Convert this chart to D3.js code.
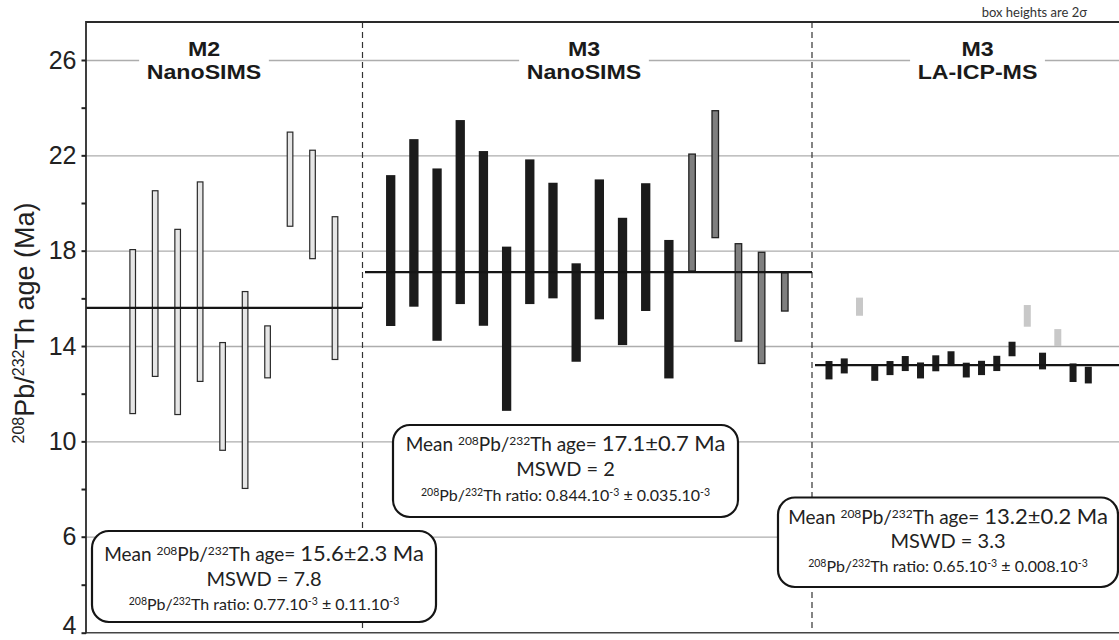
<!DOCTYPE html>
<html><head><meta charset="utf-8">
<script src="https://cdn.jsdelivr.net/npm/d3@7"></script>
<style>body{margin:0;background:#fff}svg{display:block}</style>
</head><body>
<svg id="c" width="1119" height="640"></svg>
<script>
// ---------------- DATA ----------------
const m2NanoHigh = [18.07, 20.54, 18.92, 20.91, 14.17, 16.31, 14.87, 23.00, 22.24, 19.45];
const m2NanoLow  = [11.14, 12.70, 11.10, 12.49,  9.60,  8.00, 12.64, 19.00, 17.64, 13.41];

const m3NanoHigh = [21.17, 22.68, 21.45, 23.48, 22.18, 18.17, 21.83, 20.85, 17.47, 20.99, 19.38, 20.83, 18.45, 22.08, 23.90, 18.32, 17.96, 17.10];
const m3NanoLow  = [14.84, 15.65, 14.22, 15.76, 14.85, 11.28, 15.76, 16.00, 13.34, 15.12, 14.04, 15.47, 12.64, 17.12, 18.52, 14.18, 13.24, 15.44];
const m3NanoGroup = ["a","a","a","a","a","a","a","a","a","a","a","a","a","b","b","b","b","b"];

const m3LaHigh = [13.37, 13.48, 16.03, 13.16, 13.37, 13.58, 13.31, 13.61, 13.78, 13.30, 13.38, 13.59, 14.18, 15.72, 13.72, 14.71, 13.27, 13.13];
const m3LaLow  = [12.60, 12.85, 15.27, 12.54, 12.78, 12.95, 12.64, 12.94, 13.16, 12.68, 12.78, 12.95, 13.57, 14.81, 13.02, 14.00, 12.49, 12.43];
const m3LaGroup = ["a","a","x","a","a","a","a","a","a","a","a","a","a","x","a","x","a","a"];

const meanAges = [15.6, 17.1, 13.2];
const meanErrs = ["2.3", "0.7", "0.2"];
const mswdValues = ["7.8", "2", "3.3"];
const ratioValues = ["0.77", "0.844", "0.65"];
const ratioErrs = ["0.11", "0.035", "0.008"];

const panelTitleTop = ["M2", "M3", "M3"];
const panelTitleBottom = ["NanoSIMS", "NanoSIMS", "LA-ICP-MS"];

const yTickValues = [4, 6, 10, 14, 18, 22, 26];
const yMinorTicks = [5, 8, 12, 16, 20, 24];
const gridValues = [6, 10, 14, 18, 22, 26];

// ---------------- LAYOUT ----------------
const plotLeft = 86, plotRight = 1119, plotTop = 22, plotBottom = 632.7;
const y = d3.scaleLinear().domain([4, 6, 26]).range([plotBottom, 536.7, 60]);

const panels = [
  { x0: 86, x1: 362.5, first: 132.7, last: 335, titleX: 204, high: m2NanoHigh, low: m2NanoLow,
    group: m2NanoHigh.map(() => "m2"), lineX0: 86, lineX1: 362 },
  { x0: 362.5, x1: 812, first: 390.7, last: 784.8, titleX: 584, high: m3NanoHigh, low: m3NanoLow,
    group: m3NanoGroup, lineX0: 365, lineX1: 812 },
  { x0: 812, x1: 1119, first: 829, last: 1088.3, titleX: 977.5, high: m3LaHigh, low: m3LaLow,
    group: m3LaGroup, lineX0: 815, lineX1: 1119 }
];
const barStyles = [
  { m2: { w: 6.8, fill: "#e6e6e6", stroke: "#2a2a2a", sw: 1.2 } },
  { a: { w: 9.3, fill: "#1b1b1b", stroke: "none", sw: 0 }, b: { w: 7.8, fill: "#7f7f7f", stroke: "#222", sw: 1.3 } },
  { a: { w: 7, fill: "#1b1b1b", stroke: "none", sw: 0 }, x: { w: 7, fill: "#c8c8c8", stroke: "none", sw: 0 } }
];
const boxLayout = [
  { x: 92, y: 531, w: 344, h: 91, lines: [29.7, 55, 79] },
  { x: 393, y: 425, w: 345, h: 92, lines: [25.5, 51, 75.7] },
  { x: 778, y: 497.5, w: 340, h: 89.5, lines: [26, 50, 74.5] }
];
const boxFont = "Lato, 'Open Sans', sans-serif";
const axisFont = "'Liberation Sans', Arial, sans-serif";

const svg = d3.select("#c");

// gridlines
svg.append("g").attr("transform", `translate(${plotLeft},0)`)
  .call(d3.axisLeft(y).tickValues(gridValues).tickSize(-(plotRight - plotLeft)).tickFormat(""))
  .call(g => g.select(".domain").remove())
  .call(g => g.selectAll("line").attr("stroke", "#adadad").attr("stroke-width", 1.3));

// panel titles with white background interrupting the top gridline
panels.forEach((p, i) => {
  const g = svg.append("g").attr("transform", `translate(${p.titleX},0) scale(1.16,1)`);
  const bg = g.append("rect").attr("fill", "#fff");
  const t = g.append("g").attr("font-family", axisFont).attr("font-weight", "bold")
    .attr("font-size", 20).attr("fill", "#1a1a1a").attr("text-anchor", "middle");
  t.append("text").attr("x", 0).attr("y", 56).text(panelTitleTop[i]);
  t.append("text").attr("x", 0).attr("y", 79).text(panelTitleBottom[i]);
  const bb = t.node().getBBox();
  bg.attr("x", bb.x - 6.5).attr("width", bb.width + 13).attr("y", 45).attr("height", 30);
});

// dividers
svg.selectAll(".divider").data([panels[0].x1, panels[1].x1]).join("line")
  .attr("x1", d => d).attr("x2", d => d).attr("y1", plotTop).attr("y2", plotBottom)
  .attr("stroke", "#333").attr("stroke-width", 1.2).attr("stroke-dasharray", "6,4");

// bars + mean lines
panels.forEach((p, i) => {
  const n = p.high.length;
  const x = d3.scaleLinear().domain([1, n]).range([p.first, p.last]);
  const data = p.high.map((h, k) => ({ k: k + 1, hi: h, lo: p.low[k], g: p.group[k] }));
  const st = barStyles[i];
  const g = svg.append("g");
  g.selectAll("rect").data(data).join("rect")
    .attr("x", d => x(d.k) - st[d.g].w / 2 + st[d.g].sw / 2)
    .attr("width", d => st[d.g].w - st[d.g].sw)
    .attr("y", d => y(d.hi) + st[d.g].sw / 2)
    .attr("height", d => y(d.lo) - y(d.hi) - st[d.g].sw)
    .attr("fill", d => st[d.g].fill)
    .attr("stroke", d => st[d.g].stroke)
    .attr("stroke-width", d => st[d.g].sw);
  svg.append("line")
    .attr("x1", p.lineX0).attr("x2", p.lineX1)
    .attr("y1", y(meanAges[i])).attr("y2", y(meanAges[i]))
    .attr("stroke", "#151515").attr("stroke-width", 2.2);
});

// frame lines
svg.append("line").attr("x1", plotLeft).attr("x2", plotRight).attr("y1", plotTop).attr("y2", plotTop)
  .attr("stroke", "#2a2a2a").attr("stroke-width", 2);
svg.append("line").attr("x1", plotLeft).attr("x2", plotRight).attr("y1", plotBottom).attr("y2", plotBottom)
  .attr("stroke", "#444").attr("stroke-width", 1.6);
svg.append("line").attr("x1", plotLeft).attr("x2", plotLeft).attr("y1", plotTop - 1).attr("y2", plotBottom + 0.8)
  .attr("stroke", "#2a2a2a").attr("stroke-width", 1.8);

// y axis
const yAxisG = svg.append("g").attr("transform", `translate(${plotLeft},0)`)
  .call(d3.axisLeft(y).tickValues(yTickValues).tickSize(4.5).tickPadding(5).tickFormat(d3.format("d")));
yAxisG.select(".domain").remove();
yAxisG.selectAll("line").attr("stroke", "#222").attr("stroke-width", 2);
yAxisG.selectAll("text").attr("font-family", axisFont).attr("font-size", 25).attr("fill", "#222")
  .attr("dy", d => d === yTickValues[0] ? "0.04em" : "0.32em");
const yMinorG = svg.append("g").attr("transform", `translate(${plotLeft},0)`)
  .call(d3.axisLeft(y).tickValues(yMinorTicks).tickSize(4.5).tickFormat(""));
yMinorG.select(".domain").remove();
yMinorG.selectAll("line").attr("stroke", "#222").attr("stroke-width", 2);

// rich text helper (superscripts)
function rich(textSel, parts) {
  let shift = 0;
  parts.forEach(p => {
    const target = p.sup ? -p.rise : 0;
    textSel.append("tspan").attr("dy", target - shift).attr("font-size", p.size).text(p.t);
    shift = target;
  });
}

// y axis title
const yTitle = svg.append("text")
  .attr("transform", "translate(34,323) rotate(-90)")
  .attr("text-anchor", "middle").attr("font-family", axisFont).attr("fill", "#222");
rich(yTitle, [
  { t: "208", size: 16, sup: true, rise: 10 }, { t: "Pb/", size: 27 },
  { t: "232", size: 16, sup: true, rise: 10 }, { t: "Th age (Ma)", size: 27 }
]);

// annotation boxes
boxLayout.forEach((b, i) => {
  const g = svg.append("g");
  g.append("rect").attr("x", b.x).attr("y", b.y).attr("width", b.w).attr("height", b.h)
    .attr("rx", 17).attr("ry", 17).attr("fill", "#fff").attr("stroke", "#151515").attr("stroke-width", 2.2);
  const cx = b.x + b.w / 2;
  const mk = (dy) => g.append("text").attr("x", cx).attr("y", b.y + dy)
    .attr("text-anchor", "middle").attr("font-family", boxFont).attr("fill", "#222");
  rich(mk(b.lines[0]), [
    { t: "Mean ", size: 19 }, { t: "208", size: 12, sup: true, rise: 6 }, { t: "Pb/", size: 19 },
    { t: "232", size: 12, sup: true, rise: 6 }, { t: "Th age= ", size: 19 },
    { t: `${meanAges[i].toFixed(1)}±${meanErrs[i]} Ma`, size: 22 }
  ]);
  rich(mk(b.lines[1]), [{ t: `MSWD = ${mswdValues[i]}`, size: 20 }]);
  rich(mk(b.lines[2]), [
    { t: "208", size: 10.5, sup: true, rise: 5 }, { t: "Pb/", size: 16 },
    { t: "232", size: 10.5, sup: true, rise: 5 }, { t: `Th ratio: ${ratioValues[i]}.10`, size: 16 },
    { t: "-3", size: 10.5, sup: true, rise: 5 }, { t: ` ± ${ratioErrs[i]}.10`, size: 16 },
    { t: "-3", size: 10.5, sup: true, rise: 5 }
  ]);
});

// note
svg.append("text").attr("x", 1087).attr("y", 17).attr("text-anchor", "end")
  .attr("font-family", boxFont).attr("font-size", 13).attr("fill", "#333").text("box heights are 2σ");
</script>
</body></html>
